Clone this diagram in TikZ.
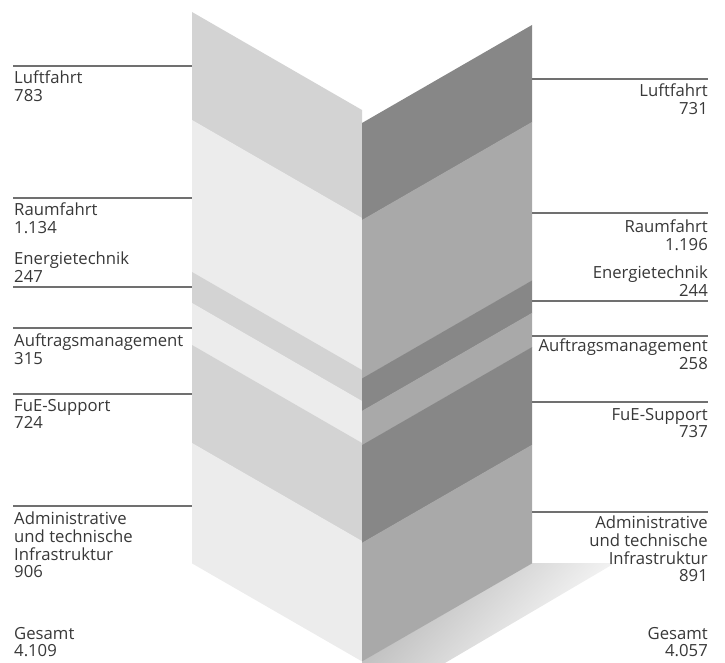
\documentclass[tikz,border=0pt]{standalone}
\usepackage{fontspec}
\setmainfont{Open Sans}
\definecolor{leftlight}{HTML}{ECECEC}
\definecolor{leftmid}{HTML}{D3D3D3}
\definecolor{rightmid}{HTML}{A9A9A9}
\definecolor{rightdark}{HTML}{878787}
\definecolor{labeltext}{HTML}{383838}
\definecolor{leaderline}{HTML}{707070}
\tikzset{
x=1pt,
y=-1pt,
leader/.style={draw=leaderline, line width=1.3pt},
lbl/.style={font=\fontsize{16.7}{17.7}\selectfont, text=labeltext, inner sep=0pt, align=left, anchor=north west},
rbl/.style={lbl, align=right, anchor=north east},
}

\begin{document}
\begin{tikzpicture}

    \useasboundingbox (0,0) rectangle (725,663);

    % shadow under the right panel
    \shade[top color=gray!58, bottom color=white, shading angle=48] (362,661) -- (532,563) -- (615,563) -- (445,663) -- (362,663) -- cycle;

    % left panel, y at its left edge
    \foreach \a/\b/\c in {12/120/leftmid, 120/272/leftlight, 272/303/leftmid, 303/345/leftlight, 345/443/leftmid, 443/563/leftlight}
        \fill[\c] (192,\a) -- (362,{\a+98}) -- (362,{\b+98.4}) -- (192,{\b+0.4}) -- cycle;

    % right panel, y at its right edge
    \foreach \a/\b/\c in {25/122/rightdark, 122/280.5/rightmid, 280.5/312.9/rightdark, 312.9/347.1/rightmid, 347.1/444.8/rightdark, 444.8/563/rightmid}
        \fill[\c] (362,{\a+98}) -- (532,\a) -- (532,{\b+0.4}) -- (362,{\b+98.4}) -- cycle;

    % leader lines
    \coordinate (l1) at (13,66);   \coordinate (p1) at (192,66);
    \coordinate (l2) at (13,198);  \coordinate (p2) at (192,198);
    \coordinate (l3) at (13,287);  \coordinate (p3) at (192,287);
    \coordinate (l4) at (13,328);  \coordinate (p4) at (192,328);
    \coordinate (l5) at (13,394);  \coordinate (p5) at (192,394);
    \coordinate (l6) at (13,506);  \coordinate (p6) at (192,506);
    \coordinate (r1) at (708,79);  \coordinate (q1) at (532,79);
    \coordinate (r2) at (708,213); \coordinate (q2) at (532,213);
    \coordinate (r3) at (708,301); \coordinate (q3) at (532,301);
    \coordinate (r4) at (708,336); \coordinate (q4) at (532,336);
    \coordinate (r5) at (708,402); \coordinate (q5) at (532,402);
    \coordinate (r6) at (708,512); \coordinate (q6) at (532,512);
    \foreach \i in {1,...,6} {
        \draw[leader] (l\i) -- (p\i);
        \draw[leader] (q\i) -- (r\i);
    }

    % left labels
    \node[lbl] (luftL) at (14,71) {Luftfahrt\\783};
    \node[lbl] (raumL) at (14,203) {Raumfahrt\\1.134};
    \node[lbl] (energL) at (14,252) {Energietechnik\\247};
    \node[lbl] (auftrL) at (14,334) {Auftragsmanagement\\315};
    \node[lbl] (fueL) at (14,399) {FuE-Support\\724};
    \node[lbl] (adminL) at (14,512) {Administrative\\und technische\\Infrastruktur\\906};
    \node[lbl] (gesamtL) at (14,627) {Gesamt\\4.109};

    % right labels
    \node[rbl] (luftR) at (708,84) {Luftfahrt\\731};
    \node[rbl] (raumR) at (708,220) {Raumfahrt\\1.196};
    \node[rbl] (energR) at (708,266) {Energietechnik\\244};
    \node[rbl] (auftrR) at (708,339) {Auftragsmanagement\\258};
    \node[rbl] (fueR) at (708,408) {FuE-Support\\737};
    \node[rbl] (adminR) at (708,516) {Administrative\\und technische\\Infrastruktur\\891};
    \node[rbl] (gesamtR) at (708,627) {Gesamt\\4.057};

\end{tikzpicture}
\end{document}
